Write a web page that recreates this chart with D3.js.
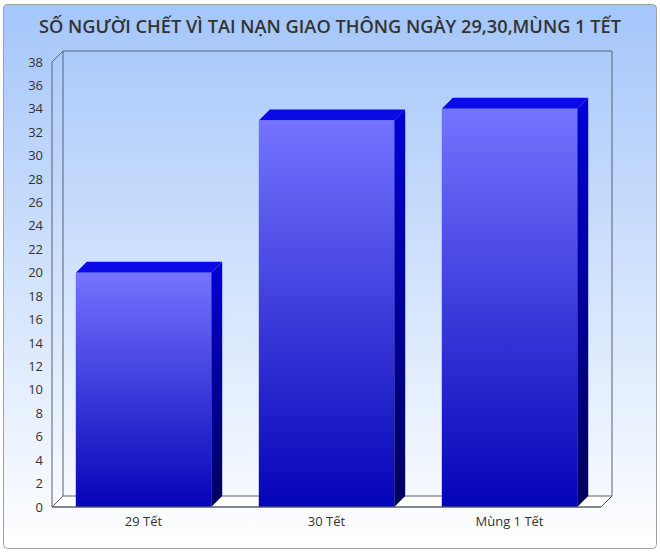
<!DOCTYPE html>
<html>
<head>
<meta charset="utf-8">
<script src="https://cdn.jsdelivr.net/npm/d3@7"></script>
<style>
  html, body { margin: 0; padding: 0; background: #fff; }
  svg text { font-family: "Open Sans", sans-serif; fill: #333; }
</style>
</head>
<body>
<svg id="chart" width="660" height="553"></svg>
<script>
const title = "SỐ NGƯỜI CHẾT VÌ TAI NẠN GIAO THÔNG NGÀY 29,30,MÙNG 1 TẾT";
const categories = ["29 Tết", "30 Tết", "Mùng 1 Tết"];
const values = [20, 33, 34];
const yTicks = d3.range(0, 39, 2);

const width = 660, height = 553;
const padding = { left: 52, right: 59, top: 62, bottom: 46 };
const depth = 11;

const svg = d3.select("#chart");
const defs = svg.append("defs");

const bg = defs.append("linearGradient").attr("id", "bg")
  .attr("x1", 0).attr("y1", 0).attr("x2", 0).attr("y2", 1);
bg.append("stop").attr("offset", "0%").attr("stop-color", "#a4c6fa");
bg.append("stop").attr("offset", "100%").attr("stop-color", "#ffffff");

const front = defs.append("linearGradient").attr("id", "front")
  .attr("x1", 0).attr("y1", 0).attr("x2", 0).attr("y2", 1);
front.append("stop").attr("offset", "0%").attr("stop-color", "#7474ff");
front.append("stop").attr("offset", "100%").attr("stop-color", "#0404b8");

const side = defs.append("linearGradient").attr("id", "side")
  .attr("x1", 0).attr("y1", 0).attr("x2", 0).attr("y2", 1);
side.append("stop").attr("offset", "0%").attr("stop-color", "#0000d8");
side.append("stop").attr("offset", "100%").attr("stop-color", "#00005e");

// outer panel
svg.append("rect")
  .attr("x", 3.5).attr("y", 4.5).attr("width", 653).attr("height", 544)
  .attr("rx", 4)
  .attr("fill", "url(#bg)")
  .attr("stroke", "#a0a0a0");

svg.append("text")
  .attr("x", width / 2).attr("y", 33)
  .attr("text-anchor", "middle")
  .attr("font-size", 18)
  .attr("font-weight", 600)
  .attr("textLength", 582)
  .attr("lengthAdjust", "spacingAndGlyphs")
  .text(title);

const x = d3.scaleBand()
  .domain(categories)
  .range([padding.left, width - padding.right])
  .paddingInner(0.26)
  .paddingOuter(0.13);

const y = d3.scaleLinear()
  .domain([0, 38])
  .range([height - padding.bottom, padding.top]);

const x0 = padding.left, x1 = width - padding.right;
const y0 = y(0), yTop = y(38);

// back wall and floor
const frame = svg.append("g").attr("fill", "none").attr("stroke", "#5a6070").attr("stroke-width", 1);
frame.append("path")
  .attr("d", `M${x0 + depth},${y0 - depth}V${yTop - depth}H${x1 + depth}V${y0 - depth}`);
frame.append("path")
  .attr("fill", "#ffffff")
  .attr("d", `M${x0},${y0}L${x0 + depth},${y0 - depth}H${x1 + depth}L${x1},${y0}Z`);
frame.append("path")
  .attr("d", `M${x0},${y0}V${yTop}L${x0 + depth},${yTop - depth}`);

// bars
const bars = svg.append("g").selectAll("g")
  .data(categories.map((c, i) => ({ label: c, value: values[i] })))
  .join("g");

bars.append("path")
  .attr("fill", "url(#side)")
  .attr("d", d => {
    const bx = x(d.label) + x.bandwidth();
    return `M${bx},${y0}V${y(d.value)}L${bx + depth},${y(d.value) - depth}V${y0 - depth}Z`;
  });

bars.append("path")
  .attr("fill", "#0a0ae6")
  .attr("d", d => {
    const bx = x(d.label);
    const ty = y(d.value);
    return `M${bx},${ty}L${bx + depth},${ty - depth}H${bx + x.bandwidth() + depth}L${bx + x.bandwidth()},${ty}Z`;
  });

bars.append("rect")
  .attr("fill", "url(#front)")
  .attr("x", d => x(d.label))
  .attr("y", d => y(d.value))
  .attr("width", x.bandwidth())
  .attr("height", d => y(0) - y(d.value));

// front floor line on top of bars
svg.append("line")
  .attr("x1", x0).attr("x2", x1).attr("y1", y0).attr("y2", y0)
  .attr("stroke", "#5a6070");

// y axis labels
svg.append("g").attr("class", "y-axis")
  .selectAll("text")
  .data(yTicks)
  .join("text")
  .attr("x", 43)
  .attr("y", d => y(d))
  .attr("dy", "0.35em")
  .attr("text-anchor", "end")
  .attr("font-size", 13)
  .text(d => d);

// x axis labels
svg.append("g").attr("class", "x-axis")
  .selectAll("text")
  .data(categories)
  .join("text")
  .attr("x", d => x(d) + x.bandwidth() / 2)
  .attr("y", 526)
  .attr("text-anchor", "middle")
  .attr("font-size", 13)
  .text(d => d);
</script>
</body>
</html>
